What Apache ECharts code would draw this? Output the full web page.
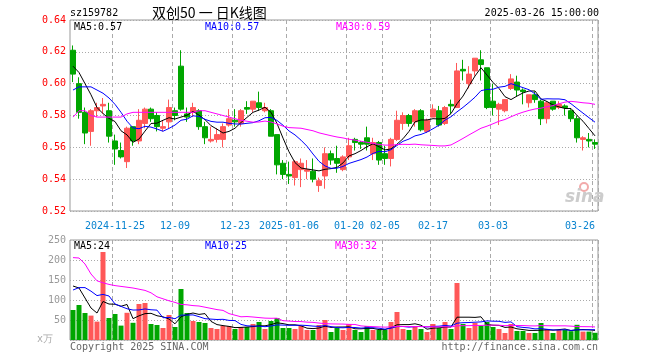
<!DOCTYPE html>
<html><head><meta charset="utf-8">
<script src="https://cdn.jsdelivr.net/npm/echarts/dist/echarts.min.js"></script>
<style>html,body{margin:0;padding:0;background:#fff}#c{width:660px;height:360px}</style>
</head><body><div id="c"></div>
<script>
const dates = [
'2024-11-14','2024-11-15','2024-11-18','2024-11-19','2024-11-20','2024-11-21','2024-11-22','2024-11-25','2024-11-26','2024-11-27','2024-11-28','2024-11-29',
'2024-12-02','2024-12-03','2024-12-04','2024-12-05','2024-12-06','2024-12-09','2024-12-10','2024-12-11','2024-12-12','2024-12-13','2024-12-16','2024-12-17','2024-12-18','2024-12-19','2024-12-20','2024-12-23','2024-12-24','2024-12-25','2024-12-26','2024-12-27','2024-12-30','2024-12-31',
'2025-01-02','2025-01-03','2025-01-06','2025-01-07','2025-01-08','2025-01-09','2025-01-10','2025-01-13','2025-01-14','2025-01-15','2025-01-16','2025-01-17','2025-01-20','2025-01-21','2025-01-22','2025-01-23','2025-01-24','2025-01-27',
'2025-02-05','2025-02-06','2025-02-07','2025-02-10','2025-02-11','2025-02-12','2025-02-13','2025-02-14','2025-02-17','2025-02-18','2025-02-19','2025-02-20','2025-02-21','2025-02-24','2025-02-25','2025-02-26','2025-02-27','2025-02-28',
'2025-03-03','2025-03-04','2025-03-05','2025-03-06','2025-03-07','2025-03-10','2025-03-11','2025-03-12','2025-03-13','2025-03-14','2025-03-17','2025-03-18','2025-03-19','2025-03-20','2025-03-21','2025-03-24','2025-03-25','2025-03-26'];

const openP = [
0.621,0.600,0.582,0.570,0.583,0.586,0.583,0.564,0.558,0.551,
0.573,0.564,0.575,0.584,0.580,0.572,0.576,0.583,0.611,0.581,
0.582,0.583,0.573,0.564,0.565,0.565,0.574,0.577,0.575,0.585,
0.584,0.588,0.583,0.583,0.568,0.550,0.543,0.541,0.546,0.545,
0.545,0.536,0.542,0.556,0.553,0.546,0.554,0.565,0.563,0.566,
0.556,0.563,0.556,0.553,0.565,0.575,0.580,0.576,0.583,0.570,
0.579,0.583,0.575,0.587,0.585,0.609,0.600,0.608,0.615,0.610,
0.589,0.584,0.583,0.597,0.601,0.596,0.588,0.593,0.589,0.578,
0.589,0.585,0.586,0.583,0.578,0.565,0.565,0.563];
const closeP = [
0.606,0.582,0.569,0.583,0.585,0.587,0.567,0.559,0.554,0.572,
0.564,0.577,0.584,0.578,0.573,0.573,0.585,0.580,0.584,0.579,
0.585,0.573,0.566,0.565,0.568,0.573,0.578,0.576,0.583,0.584,
0.589,0.585,0.585,0.567,0.549,0.543,0.542,0.551,0.550,0.546,
0.540,0.539,0.556,0.552,0.550,0.554,0.561,0.563,0.562,0.562,
0.563,0.552,0.553,0.565,0.577,0.580,0.575,0.583,0.571,0.577,
0.584,0.574,0.585,0.586,0.608,0.608,0.606,0.616,0.612,0.585,
0.585,0.587,0.590,0.603,0.596,0.595,0.593,0.590,0.578,0.588,
0.584,0.587,0.585,0.578,0.566,0.566,0.564,0.562];
const highP = [
0.624,0.604,0.585,0.584,0.588,0.591,0.588,0.568,0.563,0.573,
0.573,0.584,0.585,0.585,0.582,0.577,0.590,0.585,0.621,0.585,
0.588,0.584,0.576,0.573,0.572,0.575,0.584,0.584,0.584,0.589,
0.589,0.595,0.588,0.584,0.568,0.552,0.551,0.552,0.553,0.552,
0.553,0.541,0.560,0.558,0.561,0.555,0.566,0.566,0.564,0.573,
0.566,0.564,0.561,0.566,0.583,0.582,0.581,0.584,0.584,0.578,
0.587,0.586,0.586,0.590,0.613,0.615,0.611,0.616,0.621,0.610,
0.600,0.588,0.590,0.606,0.605,0.597,0.593,0.595,0.590,0.589,
0.589,0.589,0.587,0.584,0.580,0.567,0.569,0.565];
const lowP = [
0.601,0.578,0.562,0.561,0.579,0.581,0.563,0.549,0.553,0.547,
0.561,0.562,0.572,0.576,0.570,0.570,0.572,0.577,0.583,0.576,
0.579,0.571,0.562,0.563,0.563,0.560,0.573,0.573,0.573,0.581,
0.582,0.583,0.582,0.567,0.543,0.540,0.537,0.536,0.535,0.540,
0.538,0.532,0.534,0.549,0.544,0.545,0.552,0.558,0.559,0.558,
0.552,0.549,0.549,0.548,0.564,0.571,0.573,0.573,0.570,0.569,
0.579,0.573,0.574,0.581,0.585,0.602,0.597,0.605,0.602,0.584,
0.580,0.574,0.582,0.596,0.592,0.587,0.585,0.588,0.574,0.575,
0.583,0.584,0.580,0.576,0.563,0.558,0.560,0.559];
// volume in 万
const volume = [
75,87.5,67.5,61,46,220,55,65,36,68,
43,90,92.5,40,37.5,30,62.5,32.5,127.5,67.5,
47.5,45,42.5,30,27.5,35,35,27.5,32.5,32.5,
40,45,27.5,47.5,55,30,30,27.5,35,25,
25,37.5,50,20,30,25,40,25,20,35,
25,25,25,45,70,27.5,25,35,27.5,20,
40,30,45,27.5,142.5,40,30,42.5,35,45,
32.5,27.5,17.5,40,22.5,22.5,17.5,17.5,42.5,27.5,
17.5,25,25,22,38,21,21,18];

// moving-average values for days whose window starts before the first shown day
const ma5Head  = [0.611,0.607,0.600,0.593];
const ma10Head = [0.596,0.598,0.598,0.598,0.596,0.594,0.591,0.587,0.582];
const ma30Head = [0.579,0.583,0.583,0.580,0.579,0.579,0.579,0.579,0.579,0.581,
                  0.582,0.582,0.582,0.582,0.582,0.582,0.582,0.582,0.582,0.582,
                  0.582,0.583,0.583,0.582,0.581,0.580,0.579,0.578,0.577];
const vma5Head  = [135,130,105,80];
const vma10Head = [125,131,131,122,111,114,110,90,84];
const vma30Head = [206,205,190,165,148,143,139,136,134,132,130,127,124,118,108,103,98,94,89,88,86,85,82,79,76,74,66,62,58];

const tickDates  = ['2024-11-25','2024-12-09','2024-12-23','2025-01-06','2025-01-20','2025-02-05','2025-02-17','2025-03-03','2025-03-26'];
const tickLabels = ['2024-11-25','12-09','12-23','2025-01-06','01-20','02-05','02-17','03-03','03-26'];
const priceTicks = [0.52,0.54,0.56,0.58,0.60,0.62,0.64];
const volTicks = [0,50,100,150,200,250];

function ma(src, n, head){
  return src.map((_, i) => i < n - 1 ? head[i]
    : +(src.slice(i - n + 1, i + 1).reduce((a, b) => a + b, 0) / n).toFixed(4));
}

const tickIdx = new Set(tickDates.map(d => dates.indexOf(d)));
const labelOf = {}; tickDates.forEach((d, k) => labelOf[d] = tickLabels[k]);
const candle = dates.map((_, i) => [openP[i], closeP[i], lowP[i], highP[i]]);
const RED = '#ff5858', GREEN = '#00a600';
const mono = '"DejaVu Sans Mono", "Liberation Mono", monospace';
const vLine = {show: true, interval: (i) => tickIdx.has(i), lineStyle: {color: '#aaa', type: [4, 3], width: 1}};
const hLine = {show: true, lineStyle: {color: '#aaa', type: [1, 2], width: 1}};

const chart = echarts.init(document.getElementById('c'), null, {renderer: 'canvas', width: 660, height: 360});
const txt = (t, x, y, color, font, align) => ({type: 'text', silent: true, z: 100,
  style: {text: t, x: x, y: y, fill: color, font: font || ('10px ' + mono),
          textAlign: align || 'left', align: align || 'left', textVerticalAlign: 'middle', verticalAlign: 'middle'}});

chart.setOption({
  animation: false,
  backgroundColor: '#fff',
  grid: [
    {left: 70, top: 20, width: 528, height: 191, show: true, borderColor: '#999', borderWidth: 1},
    {left: 70, top: 240, width: 528, height: 100, show: true, borderColor: '#999', borderWidth: 1}
  ],
  xAxis: [
    {type: 'category', gridIndex: 0, data: dates, boundaryGap: true,
     axisLine: {show: false}, axisTick: {show: false},
     axisLabel: {interval: (i) => tickIdx.has(i), formatter: (v) => labelOf[v] || '',
                 color: '#0a84d0', fontFamily: mono, fontSize: 10, margin: 10, alignMaxLabel: 'right'},
     splitLine: vLine},
    {type: 'category', gridIndex: 1, data: dates, boundaryGap: true,
     axisLine: {show: false}, axisTick: {show: false}, axisLabel: {show: false},
     splitLine: vLine}
  ],
  yAxis: [
    {type: 'value', gridIndex: 0, min: priceTicks[0], max: priceTicks[priceTicks.length - 1], interval: 0.02,
     axisLine: {show: false}, axisTick: {show: false},
     axisLabel: {color: '#f00', fontFamily: mono, fontSize: 10, margin: 4, formatter: (v) => v.toFixed(2)},
     splitLine: hLine},
    {type: 'value', gridIndex: 1, min: volTicks[0], max: volTicks[volTicks.length - 1], interval: 50,
     axisLine: {show: false}, axisTick: {show: false},
     axisLabel: {color: '#999', fontFamily: mono, fontSize: 10, margin: 4, formatter: (v) => v === 0 ? '' : String(v)},
     splitLine: hLine}
  ],
  series: [
    {type: 'candlestick', xAxisIndex: 0, yAxisIndex: 0, data: candle, barWidth: 5,
     itemStyle: {color: RED, color0: GREEN, borderColor: RED, borderColor0: GREEN, borderWidth: 1}},
    {type: 'line', xAxisIndex: 0, yAxisIndex: 0, data: ma(closeP, 5, ma5Head), showSymbol: false, lineStyle: {color: '#000', width: 1}, z: 5},
    {type: 'line', xAxisIndex: 0, yAxisIndex: 0, data: ma(closeP, 10, ma10Head), showSymbol: false, lineStyle: {color: '#0000ff', width: 1}, z: 5},
    {type: 'line', xAxisIndex: 0, yAxisIndex: 0, data: ma(closeP, 30, ma30Head), showSymbol: false, lineStyle: {color: '#ff00ff', width: 1}, z: 5},
    {type: 'bar', xAxisIndex: 1, yAxisIndex: 1, barWidth: 5,
     data: volume.map((v, i) => ({value: v, itemStyle: {color: closeP[i] > openP[i] ? RED : GREEN}}))},
    {type: 'line', xAxisIndex: 1, yAxisIndex: 1, data: ma(volume, 5, vma5Head), showSymbol: false, lineStyle: {color: '#000', width: 1}, z: 5},
    {type: 'line', xAxisIndex: 1, yAxisIndex: 1, data: ma(volume, 10, vma10Head), showSymbol: false, lineStyle: {color: '#0000ff', width: 1}, z: 5},
    {type: 'line', xAxisIndex: 1, yAxisIndex: 1, data: ma(volume, 30, vma30Head), showSymbol: false, lineStyle: {color: '#ff00ff', width: 1}, z: 5}
  ],
  graphic: [
    txt('sz159782', 70, 13, '#000'),
    txt('双创50 一 日K线图', 152, 13, '#000', '14px "Noto Sans CJK SC"'),
    txt('2025-03-26 15:00:00', 599, 13, '#000', null, 'right'),
    txt('MA5:0.57', 74, 27, '#000'),
    txt('MA10:0.57', 205, 27, '#0000ff'),
    txt('MA30:0.59', 336, 27, '#ff00ff'),
    txt('MA5:24', 74, 246, '#000'),
    txt('MA10:25', 205, 246, '#0000ff'),
    txt('MA30:32', 335, 246, '#ff00ff'),
    txt('x万', 53, 339, '#aaa', null, 'right'),
    txt('Copyright 2025 SINA.COM', 70, 347, '#666'),
    txt('http://finance.sina.com.cn', 598, 347, '#666', null, 'right'),
    {type: 'circle', silent: true, z: 1, shape: {cx: 584, cy: 187, r: 4}, style: {fill: 'none', stroke: '#f2aaaa', lineWidth: 2}},
    txt('sina', 565, 198, '#cccccc', 'italic bold 17px "DejaVu Sans"')
  ]
});
</script>
</body></html>
